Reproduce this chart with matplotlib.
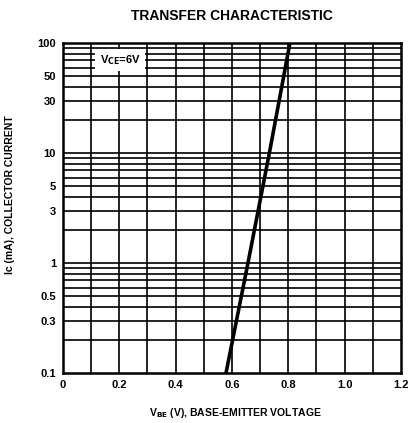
"""
    Transfer characteristic of a transistor: Ic vs Vbe on a log scale
"""

import matplotlib
matplotlib.use("Agg")
import matplotlib.pyplot as plt
from matplotlib.ticker import FixedLocator, NullFormatter, NullLocator

# data
vbe = [0.579, 0.657, 0.733, 0.806]
ic = [0.1, 1.0, 10.0, 100.0]

x_ticks = [0, 0.2, 0.4, 0.6, 0.8, 1.0, 1.2]
x_tick_labels = ["0", "0.2", "0.4", "0.6", "0.8", "1.0", "1.2"]
y_ticks = [0.1, 0.3, 0.5, 1, 3, 5, 10, 30, 50, 100]
y_tick_labels = ["0.1", "0.3", "0.5", "1", "3", "5", "10", "30", "50", "100"]

plt.rcParams['font.family'] = ['Liberation Sans', 'DejaVu Sans']
plt.rcParams['font.weight'] = 'bold'

fig = plt.figure(figsize=(4.09, 4.23), dpi=100)
ax = fig.add_axes([0.154, 0.118, 0.826, 0.780])

ax.plot(vbe, ic, '-', color='black', linewidth=2.6, zorder=3)

ax.set_yscale('log')
ax.set_xlim(0, 1.2)
ax.set_ylim(0.1, 100)

# grid: every 0.1 V and every 1..9 in each decade
grid_x = [i * 0.1 for i in range(1, 12)]
grid_y = [m * 10.0 ** d for d in (-1, 0, 1) for m in range(1, 10)][1:]
for gx in grid_x:
    ax.axvline(gx, color='black', linewidth=1.2, zorder=1)
for gy in grid_y:
    ax.axhline(gy, color='black', linewidth=1.2, zorder=1)

ax.xaxis.set_major_locator(FixedLocator(x_ticks))
ax.set_xticklabels(x_tick_labels)
ax.yaxis.set_major_locator(FixedLocator(y_ticks))
ax.yaxis.set_minor_locator(NullLocator())
ax.yaxis.set_minor_formatter(NullFormatter())
ax.set_yticklabels(y_tick_labels)
ax.tick_params(length=0, labelsize=8, pad=5)

for spine in ax.spines.values():
    spine.set_linewidth(1.8)

ax.text(0.13, 70, r"V$_{\mathrm{CE}}$=6V", fontsize=8, va='center',
        bbox=dict(facecolor='white', edgecolor='none', pad=3), zorder=4)

ax.set_title("TRANSFER CHARACTERISTIC", fontsize=10, fontweight='bold', pad=17)
ax.set_xlabel(r"V$_{\mathrm{BE}}$ (V), BASE-EMITTER VOLTAGE", fontsize=7.5,
              fontweight='bold')
ax.set_ylabel("Ic (mA), COLLECTOR CURRENT", fontsize=7.5, fontweight='bold')
ax.xaxis.set_label_coords(0.51, -0.1)
ax.yaxis.set_label_coords(-0.142, 0.54)

fig.savefig("out.png", dpi=100)
